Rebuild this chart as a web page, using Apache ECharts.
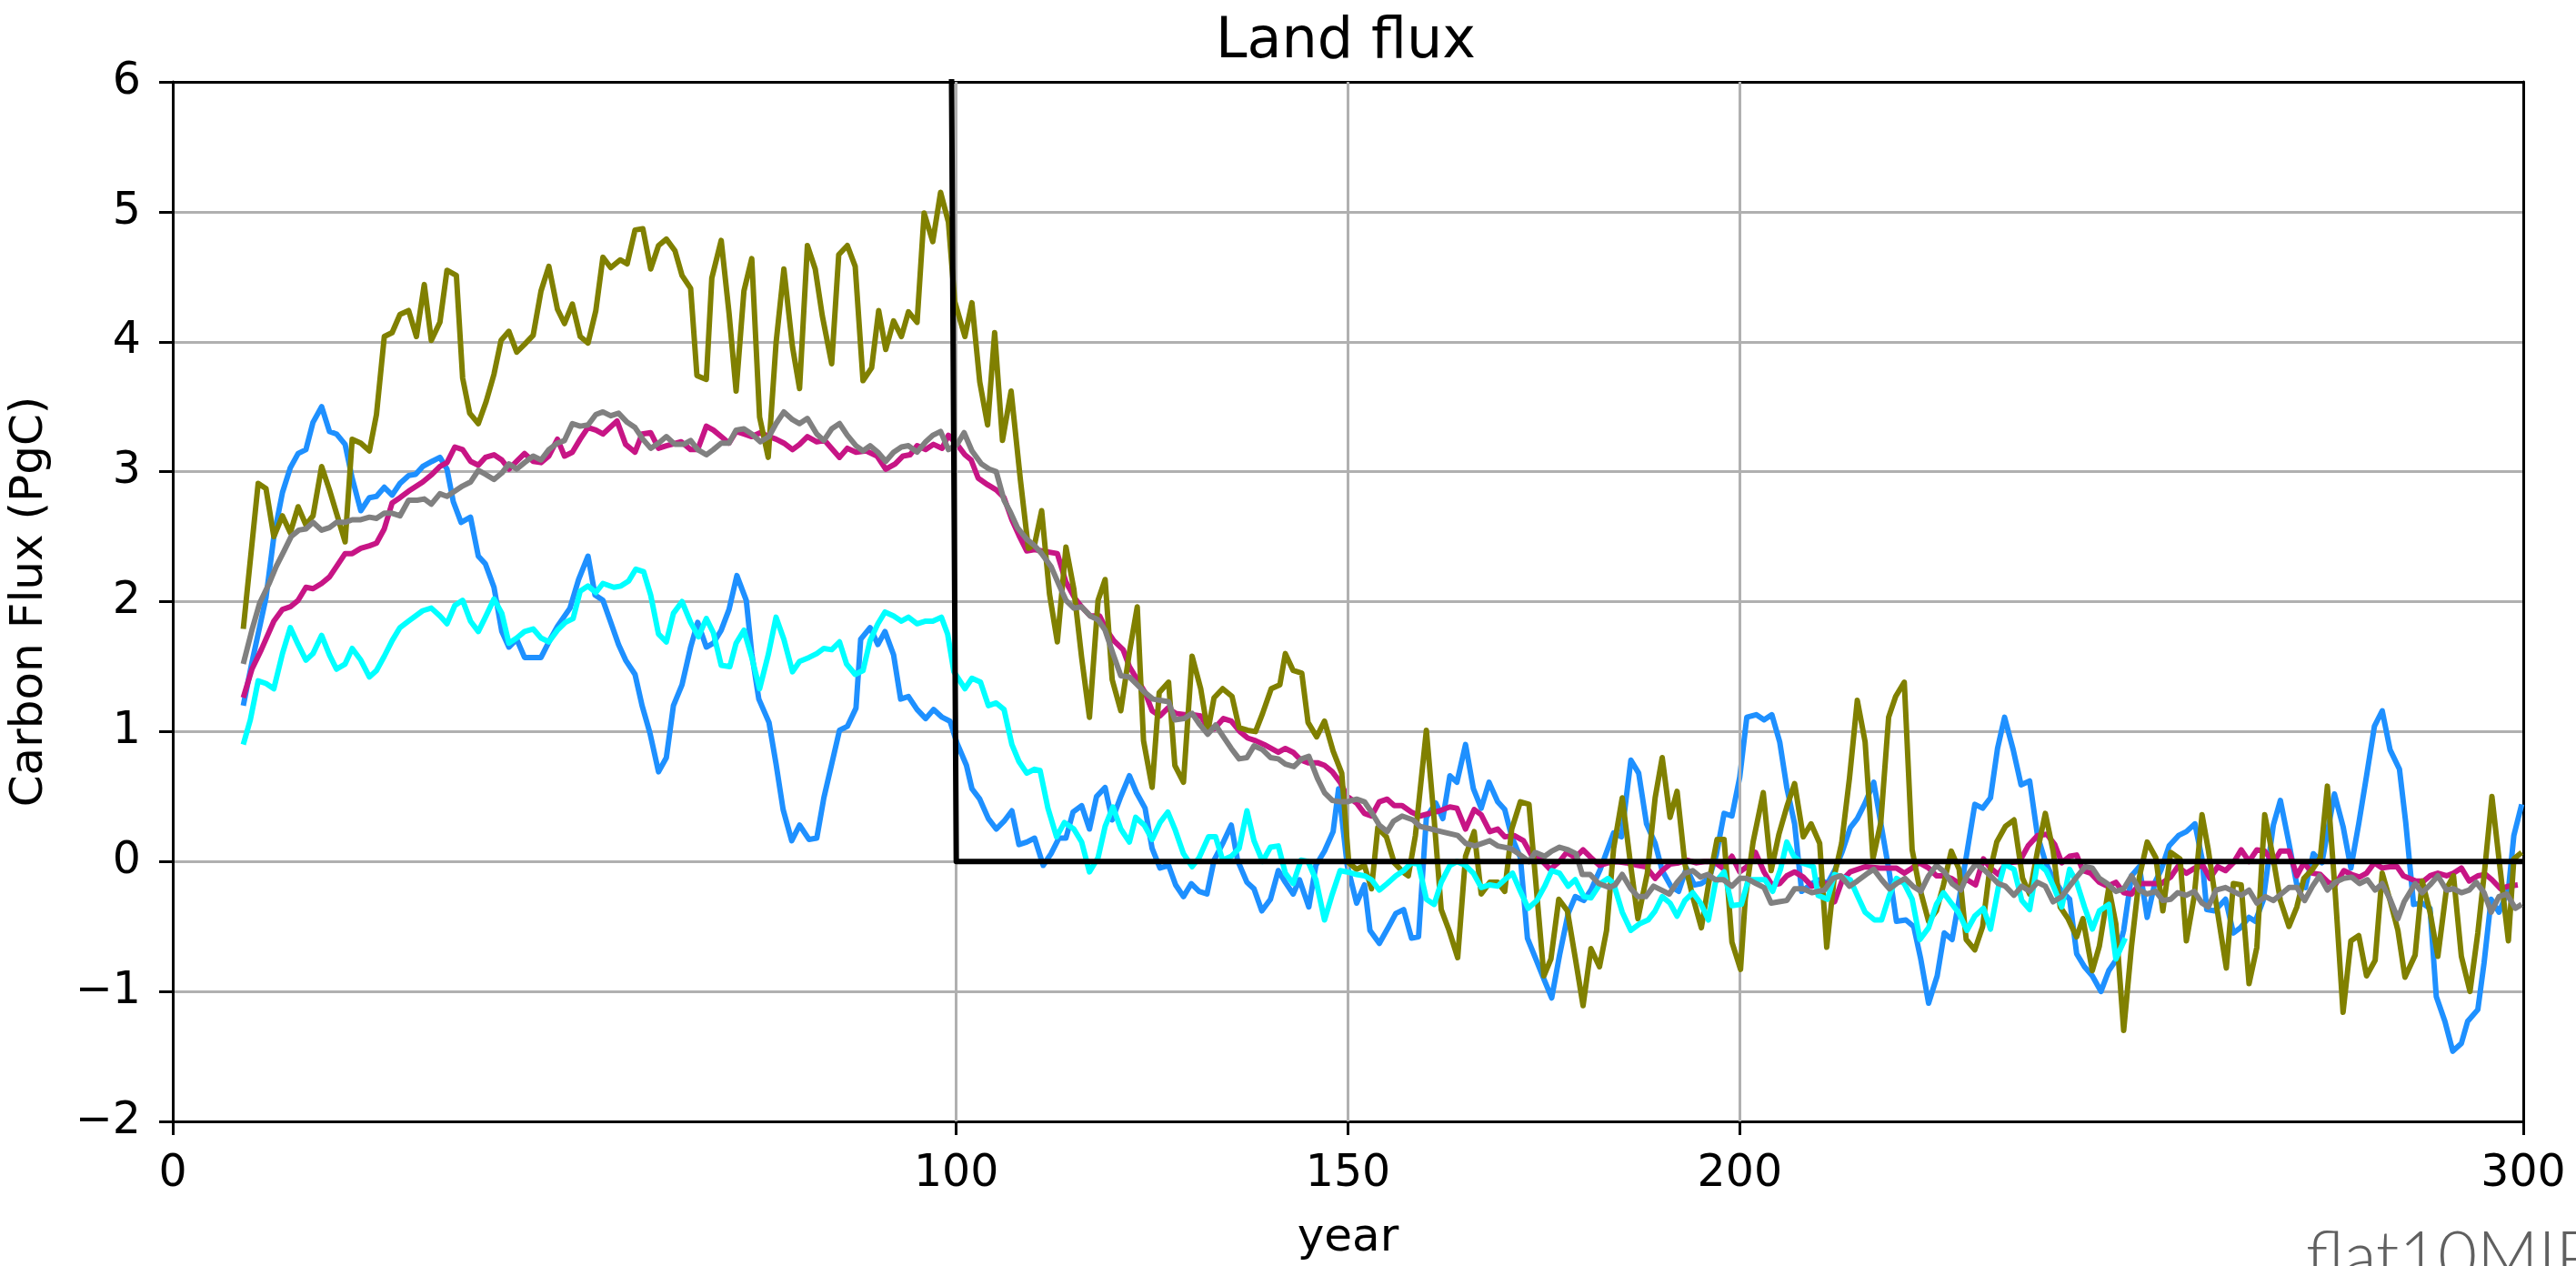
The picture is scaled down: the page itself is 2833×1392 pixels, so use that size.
<!DOCTYPE html>
<html>
<head>
<meta charset="utf-8">
<script src="https://cdn.jsdelivr.net/npm/echarts@6/dist/echarts.min.js"></script>
<style>
html,body{margin:0;padding:0;background:#fff;}
#c{width:2833px;height:1392px;}
</style>
</head>
<body>
<div id="c"></div>
<script>
// ---- data: [year, carbon flux (PgC)] ----
const xTickVals = [0, 100, 150, 200, 300];
const xGridVals = [100, 150, 200];
const emissionYears = [0, 99, 100, 300];
const emissionVals = [10, 10, 0, 0];

const blue = [[9,1.20],[10.1,1.53],[11.9,2.03],[12.9,2.50],[14,2.84],[15,3.03],[16,3.14],[17,3.17],[17.9,3.38],[19,3.50],[20,3.31],[20.9,3.29],[22,3.21],[22.9,2.95],[24,2.70],[25.1,2.80],[26,2.81],[27,2.88],[28,2.82],[29,2.91],[30.1,2.97],[31,2.98],[31.9,3.04],[33.1,3.08],[34.1,3.11],[35,3.02],[35.8,2.77],[36.8,2.61],[38,2.65],[39,2.35],[39.9,2.29],[41,2.11],[42,1.77],[42.9,1.65],[43.9,1.71],[44.9,1.57],[46,1.57],[47,1.57],[48,1.69],[49.1,1.81],[50.7,1.95],[51.8,2.17],[53,2.35],[53.9,2.05],[54.9,2.01],[55.9,1.84],[56.9,1.67],[57.8,1.55],[59,1.44],[59.9,1.20],[60.9,0.99],[62,0.69],[63,0.80],[63.9,1.20],[65,1.36],[66.1,1.65],[67,1.84],[68.1,1.65],[69,1.68],[70,1.78],[71,1.94],[72,2.20],[73.2,2.01],[73.9,1.60],[74.8,1.25],[76.1,1.07],[77,0.75],[77.9,0.40],[79,0.16],[80,0.28],[81.2,0.17],[82.2,0.18],[83.1,0.49],[84.1,0.75],[85.1,1.01],[86.1,1.04],[87.2,1.18],[87.8,1.71],[89,1.80],[90,1.67],[90.9,1.77],[92,1.59],[92.9,1.25],[93.9,1.27],[95,1.17],[96.1,1.10],[97.1,1.17],[98.2,1.11],[99.2,1.08],[100.1,0.91],[101.3,0.74],[102,0.56],[103,0.48],[104.1,0.33],[105.1,0.25],[106.1,0.31],[107.1,0.39],[108,0.13],[109,0.15],[110,0.18],[111.1,-0.03],[112.1,0.06],[113.1,0.18],[114,0.18],[114.9,0.38],[116,0.43],[117,0.25],[117.9,0.50],[119,0.57],[119.9,0.32],[121,0.50],[122.1,0.66],[123,0.53],[124.1,0.41],[125,0.10],[126,-0.05],[127.1,-0.03],[128,-0.18],[129,-0.27],[130,-0.17],[131,-0.23],[132,-0.25],[132.9,0.01],[134.1,0.15],[135.1,0.28],[135.9,0.01],[137.1,-0.16],[138,-0.21],[139,-0.38],[140.1,-0.29],[141.1,-0.07],[142,-0.16],[143,-0.25],[143.8,-0.14],[145,-0.35],[145.9,-0.03],[147,0.08],[148.1,0.23],[148.8,0.56],[149.9,-0.03],[151.1,-0.32],[152.1,-0.18],[152.8,-0.53],[154,-0.63],[155.2,-0.50],[156.1,-0.40],[157.1,-0.37],[158.1,-0.59],[159,-0.58],[160,0.34],[161.2,0.45],[162.1,0.33],[163,0.66],[163.9,0.61],[165,0.90],[166,0.56],[167,0.41],[168,0.61],[169.1,0.46],[170,0.40],[170.9,0.19],[172,0.03],[172.9,-0.59],[173.9,-0.74],[175.1,-0.92],[176,-1.05],[177,-0.72],[178.1,-0.40],[179,-0.27],[180.1,-0.30],[181,-0.22],[182.2,-0.06],[183.9,0.22],[184.9,0.19],[186.1,0.78],[187.1,0.68],[188.1,0.29],[189.2,0.14],[190.1,-0.07],[191.2,-0.19],[192.2,-0.23],[193.2,-0.05],[194.2,-0.18],[195.1,-0.17],[196.1,-0.13],[197,0.05],[198,0.37],[199,0.35],[200,0.65],[200.9,1.11],[202.1,1.13],[203.1,1.09],[204.1,1.13],[205.1,0.92],[206,0.57],[207,0.29],[207.9,-0.23],[209.2,-0.17],[210.2,-0.14],[211.2,-0.17],[212.1,-0.07],[213.1,0.08],[214.1,0.26],[215,0.33],[216,0.45],[217.1,0.61],[218.1,0.26],[219.1,-0.09],[220,-0.46],[221.2,-0.45],[222.2,-0.50],[223.1,-0.75],[224.1,-1.09],[225.2,-0.88],[226.1,-0.55],[227.1,-0.60],[228,-0.29],[229,0.07],[230,0.44],[231,0.41],[232,0.49],[232.9,0.87],[233.8,1.11],[234.9,0.86],[235.9,0.59],[237,0.62],[238,0.20],[239,0.00],[239.9,-0.12],[241.1,-0.23],[242.1,-0.29],[243,-0.71],[244,-0.81],[245,-0.88],[246.1,-1.00],[247.1,-0.84],[248,-0.76],[249,-0.53],[250,-0.11],[251,-0.04],[252,-0.43],[253,-0.16],[253.8,-0.06],[254.8,0.12],[256,0.20],[257,0.23],[258.1,0.29],[259,0.02],[259.6,-0.37],[260.6,-0.38],[262,-0.29],[263,-0.55],[263.9,-0.51],[265,-0.43],[265.8,-0.46],[266.8,-0.30],[268.1,0.28],[269,0.47],[270.1,0.14],[271.1,-0.18],[272.2,-0.20],[273.2,0.06],[274.3,-0.01],[275.9,0.52],[277,0.27],[278,-0.05],[279,0.29],[280,0.66],[281,1.04],[282,1.16],[283,0.86],[284.2,0.71],[285,0.30],[286,-0.33],[287.1,-0.32],[288.1,-0.36],[288.9,-1.04],[290,-1.23],[291,-1.46],[292.1,-1.40],[292.9,-1.23],[294.2,-1.14],[295,-0.78],[295.9,-0.29],[296.9,-0.39],[298.1,-0.22],[298.8,0.20],[299.8,0.44]];

const magenta = [[9,1.26],[10.1,1.48],[11.3,1.63],[12.9,1.85],[14,1.94],[15,1.96],[16,2.01],[17,2.11],[17.9,2.10],[19,2.14],[20,2.19],[20.9,2.27],[22,2.37],[22.9,2.37],[24,2.41],[25.1,2.43],[26,2.45],[27,2.56],[28,2.76],[29,2.80],[30.1,2.85],[31.9,2.92],[33.1,2.98],[34.1,3.04],[35,3.07],[36,3.19],[37,3.17],[38,3.08],[39,3.05],[39.9,3.11],[41,3.13],[42,3.09],[42.9,3.02],[43.9,3.08],[44.9,3.14],[46,3.08],[47,3.07],[48,3.12],[49.1,3.25],[50,3.12],[51,3.15],[52,3.25],[53,3.34],[54,3.32],[54.9,3.29],[56.7,3.39],[57.8,3.21],[59,3.15],[59.9,3.29],[61,3.30],[62,3.18],[63,3.20],[64.9,3.23],[66.1,3.17],[67,3.17],[68.1,3.35],[69,3.32],[70,3.27],[71,3.22],[71.9,3.31],[72.9,3.29],[73.9,3.27],[75,3.30],[76.1,3.27],[77,3.25],[78,3.22],[79.1,3.17],[80,3.21],[81,3.27],[82.2,3.23],[83.2,3.24],[85.1,3.11],[86.1,3.18],[87.2,3.15],[88.5,3.16],[89.9,3.12],[91,3.02],[92.2,3.06],[93.2,3.12],[94.1,3.13],[95,3.20],[96.1,3.17],[97.1,3.21],[98.2,3.18],[99,3.28],[100.1,3.21],[101.1,3.13],[101.9,3.09],[102.8,2.95],[104,2.90],[105.1,2.86],[106.1,2.80],[107.1,2.63],[108,2.51],[109,2.39],[110,2.40],[110.9,2.39],[112.9,2.37],[114,2.15],[115.1,2.03],[116,1.96],[117.1,1.89],[118.3,1.89],[119.2,1.78],[120.1,1.70],[121.3,1.63],[122.1,1.50],[123.3,1.38],[124.1,1.30],[125,1.16],[126,1.12],[127,1.18],[128,1.14],[129.1,1.13],[130.1,1.13],[131.2,1.12],[132,1.04],[132.9,1.02],[134.1,1.10],[135.1,1.08],[136.2,1.00],[137.2,0.95],[138.2,0.93],[139.3,0.90],[140.2,0.87],[141.1,0.84],[142,0.87],[143,0.84],[144,0.78],[144.9,0.76],[146.1,0.76],[147,0.74],[148,0.69],[149,0.61],[149.9,0.50],[151.1,0.45],[152.1,0.37],[153,0.35],[154,0.46],[155,0.48],[155.9,0.43],[156.9,0.43],[158.1,0.38],[159.2,0.35],[160.4,0.37],[161.7,0.39],[163,0.42],[163.9,0.41],[165,0.25],[166.1,0.40],[167,0.36],[168.1,0.23],[169.1,0.25],[170,0.19],[171.2,0.20],[172.4,0.16],[173.5,0.04],[174.7,0.01],[175.8,-0.06],[177,0.00],[177.9,0.07],[179,0.03],[180,0.09],[181,0.03],[182.1,-0.03],[183.2,-0.01],[184.3,0.00],[185.5,-0.01],[187,-0.03],[188,-0.04],[189.2,-0.13],[190.1,-0.07],[191.1,-0.02],[192.2,-0.01],[193.3,0.01],[194.4,-0.01],[195.5,0.00],[196.7,0.00],[197.8,-0.05],[199,0.04],[200,-0.08],[200.9,-0.04],[202,0.07],[203.1,-0.08],[204.1,-0.18],[205.1,-0.17],[206,-0.11],[207,-0.08],[208.1,-0.12],[209.2,-0.19],[210.2,-0.17],[211.2,-0.17],[212.1,-0.31],[213.1,-0.14],[214.1,-0.08],[216,-0.04],[217.9,-0.05],[220,-0.05],[221,-0.09],[222,-0.05],[222.9,-0.01],[224.1,-0.05],[225.1,-0.11],[226,-0.11],[227,-0.13],[228,-0.17],[229,-0.14],[230.1,-0.18],[231.1,0.02],[232,-0.05],[233,-0.10],[234,-0.01],[235.7,0.00],[236.8,0.12],[238,0.20],[239.2,0.21],[240.2,0.13],[241.1,-0.01],[242.1,0.04],[243,0.05],[243.8,-0.07],[244.8,-0.09],[245.9,-0.16],[246.9,-0.19],[248,-0.16],[249,-0.24],[250,-0.25],[251.1,-0.17],[252.7,-0.17],[253.8,-0.17],[255,-0.12],[255.9,-0.04],[257,-0.09],[258.1,-0.05],[259.1,-0.03],[260,-0.13],[261,-0.04],[262,-0.07],[263,-0.01],[264,0.09],[265,0.00],[266,0.09],[267,0.08],[268.1,-0.01],[269,0.08],[270.1,0.08],[271.1,-0.11],[272,-0.01],[273.1,-0.09],[274.1,-0.10],[275.1,-0.16],[276,-0.18],[277.1,-0.07],[278.1,-0.10],[279.1,-0.12],[280,-0.09],[281,-0.01],[282,-0.05],[283,-0.04],[283.9,-0.04],[284.7,-0.11],[286.3,-0.15],[287.3,-0.15],[288.1,-0.11],[289.1,-0.09],[290.2,-0.11],[291.1,-0.09],[292.1,-0.05],[293.1,-0.15],[294.2,-0.11],[295.2,-0.10],[296,-0.14],[297.1,-0.21],[298.1,-0.19],[299.3,-0.18]];

const olive = [[9,1.79],[10.9,2.91],[11.9,2.87],[12.9,2.50],[14,2.66],[15,2.53],[16,2.73],[17,2.59],[17.9,2.66],[19,3.04],[20,2.86],[20.9,2.68],[22,2.46],[22.9,3.25],[24,3.22],[25.1,3.16],[26,3.44],[27,4.04],[28,4.07],[29,4.21],[30.1,4.24],[31.1,4.04],[32.1,4.44],[33,4.01],[34.1,4.15],[35,4.55],[36.2,4.51],[37,3.72],[37.9,3.45],[39,3.37],[40,3.54],[41,3.75],[41.9,4.01],[42.9,4.08],[43.9,3.92],[44.9,3.98],[46,4.05],[47,4.39],[48,4.58],[49.1,4.25],[50,4.14],[51,4.29],[52,4.04],[53,3.99],[54,4.24],[54.9,4.65],[55.9,4.57],[57.1,4.63],[58,4.60],[59,4.86],[60,4.87],[61,4.56],[62,4.74],[63,4.79],[64.1,4.70],[65,4.51],[66.1,4.41],[66.9,3.74],[68.1,3.71],[68.8,4.49],[70,4.78],[71,4.22],[71.9,3.62],[72.9,4.39],[73.9,4.64],[74.9,3.42],[76,3.11],[77,3.99],[78,4.56],[79.1,3.96],[80,3.64],[81,4.74],[82,4.56],[82.9,4.20],[84.1,3.83],[85,4.67],[86.1,4.74],[87.1,4.58],[88.1,3.70],[89.2,3.80],[90.1,4.24],[91,3.94],[92,4.16],[93,4.04],[93.9,4.23],[95,4.15],[95.9,4.99],[97,4.77],[98,5.15],[99,4.92],[99.8,4.31],[101.1,4.04],[102,4.30],[103,3.69],[104,3.36],[104.9,4.07],[105.9,3.24],[107,3.62],[108.2,2.93],[109.2,2.41],[110,2.44],[110.9,2.70],[111.9,2.06],[112.9,1.69],[114,2.42],[115,2.10],[116,1.57],[117,1.11],[118.1,2.01],[119,2.17],[119.9,1.40],[121,1.16],[122.1,1.61],[123.1,1.96],[123.9,0.93],[125,0.57],[125.9,1.30],[127.1,1.38],[127.9,0.74],[129,0.61],[130.1,1.58],[131.2,1.33],[132.1,1.00],[132.9,1.26],[134,1.33],[135.2,1.27],[136.1,1.03],[137.2,1.01],[138.2,1.00],[139.1,1.14],[140.2,1.33],[141.3,1.36],[142,1.60],[143,1.47],[144.1,1.45],[144.9,1.07],[146,0.96],[147,1.08],[148.1,0.85],[149.2,0.68],[150.1,-0.01],[151.1,-0.06],[152.1,-0.03],[153,-0.21],[153.8,0.26],[154.9,0.19],[155.9,-0.01],[157,-0.08],[157.7,-0.11],[158.6,0.20],[160,1.01],[161,0.32],[161.9,-0.37],[162.9,-0.53],[164,-0.74],[165,0.04],[166.1,0.23],[167,-0.25],[168.1,-0.16],[169.1,-0.16],[170,-0.23],[170.9,0.25],[172,0.46],[173.1,0.44],[173.9,-0.11],[175,-0.88],[175.9,-0.75],[176.9,-0.29],[178,-0.38],[179,-0.74],[180,-1.11],[181,-0.67],[182.1,-0.81],[183,-0.53],[183.9,0.10],[185,0.49],[186.1,-0.04],[187,-0.44],[188.2,-0.09],[189.2,0.49],[190.1,0.80],[191.1,0.34],[192,0.54],[193,-0.02],[194,-0.27],[195.1,-0.51],[196,-0.18],[197.1,0.17],[198,0.17],[199,-0.62],[200.1,-0.83],[200.7,-0.29],[201.7,0.15],[203,0.53],[204,-0.07],[205,0.21],[206,0.42],[207,0.60],[208.1,0.19],[209.1,0.29],[210.2,0.14],[211.1,-0.66],[212.1,-0.10],[213,0.14],[214,0.64],[215,1.24],[216,0.92],[217,0.02],[218,0.30],[219,1.11],[219.9,1.27],[221,1.38],[222,0.09],[222.9,-0.19],[224.1,-0.46],[225.1,-0.38],[226,-0.18],[227,0.08],[228,-0.06],[228.9,-0.60],[230,-0.68],[231,-0.50],[231.8,-0.11],[232.8,0.15],[233.9,0.27],[235,0.32],[236.1,-0.13],[237,-0.25],[238,0.08],[239,0.37],[240,0.08],[240.9,-0.35],[241.9,-0.44],[243,-0.58],[243.8,-0.44],[245,-0.84],[245.9,-0.65],[247.1,-0.20],[248,-0.48],[249,-1.30],[250,-0.65],[251,-0.12],[252,0.15],[253.1,0.03],[254,-0.38],[255,0.07],[256.2,0.02],[257,-0.61],[258,-0.27],[259,0.36],[259.8,0.09],[260.8,-0.32],[262.1,-0.82],[263,-0.17],[264,-0.18],[265,-0.94],[266,-0.66],[267,0.36],[268.1,0.02],[269,-0.30],[270.1,-0.50],[271.1,-0.35],[272,-0.13],[273.1,-0.06],[274.1,0.03],[275,0.58],[276,-0.24],[277,-1.16],[278,-0.61],[279,-0.57],[280,-0.88],[281.1,-0.76],[282,-0.09],[283,-0.30],[284,-0.53],[284.9,-0.89],[286.2,-0.72],[287.1,-0.15],[288.1,-0.39],[289.1,-0.73],[290.2,-0.21],[291.1,-0.11],[292.1,-0.73],[293.2,-1.00],[294.2,-0.55],[295.1,-0.05],[296,0.50],[296.9,0.02],[298.1,-0.61],[298.8,0.02],[299.8,0.07]];

const cyan = [[9,0.90],[9.9,1.09],[10.9,1.39],[11.9,1.37],[12.9,1.33],[14,1.60],[15,1.80],[16,1.67],[17,1.55],[17.9,1.60],[19,1.74],[20,1.59],[20.9,1.48],[22,1.52],[22.9,1.64],[24,1.55],[25.1,1.42],[26,1.47],[27,1.58],[28,1.70],[29,1.80],[30.1,1.85],[31.9,1.93],[33,1.95],[34.1,1.89],[35,1.83],[36,1.97],[37,2.01],[38,1.85],[39,1.77],[39.9,1.88],[41,2.02],[42,1.91],[42.9,1.68],[43.9,1.72],[44.9,1.77],[46,1.79],[47,1.72],[48,1.69],[49.1,1.78],[50.1,1.84],[51.1,1.87],[52,2.08],[53,2.12],[54,2.07],[54.9,2.14],[56.3,2.11],[57.2,2.12],[58.2,2.16],[59.1,2.25],[60.1,2.23],[61,2.05],[62,1.75],[63,1.69],[63.9,1.91],[65,2.00],[66.1,1.84],[67.1,1.73],[68.1,1.87],[69,1.76],[70,1.51],[71.1,1.50],[71.9,1.68],[72.9,1.78],[73.9,1.57],[74.9,1.33],[76,1.59],[77,1.88],[78,1.71],[79.1,1.46],[80,1.54],[81.2,1.57],[82.2,1.60],[83.1,1.64],[84.1,1.63],[85.1,1.69],[86,1.52],[87.1,1.44],[88.1,1.47],[89,1.70],[90,1.83],[90.9,1.92],[92,1.89],[93,1.85],[93.9,1.88],[95,1.83],[96.1,1.85],[97,1.85],[98.1,1.88],[98.9,1.75],[99.7,1.46],[101.1,1.33],[102,1.41],[103.1,1.38],[104.1,1.20],[105.1,1.22],[106.1,1.17],[107.1,0.90],[108,0.77],[109,0.68],[110,0.71],[110.7,0.70],[111.7,0.41],[112.8,0.19],[113.8,0.30],[115,0.25],[116,0.15],[117,-0.08],[118.1,0.03],[119,0.27],[120,0.42],[121,0.25],[122.1,0.15],[122.9,0.34],[124,0.28],[125,0.17],[126,0.30],[127,0.38],[127.9,0.25],[129,0.06],[130.1,-0.04],[131,0.03],[132.2,0.19],[133.1,0.19],[134,0.01],[135.1,0.04],[136.1,0.10],[137.1,0.39],[138,0.16],[139.1,0.00],[140.1,0.11],[141.1,0.12],[142,-0.09],[143,-0.17],[144,0.01],[144.9,0.00],[145.9,-0.14],[147,-0.45],[148,-0.25],[149,-0.07],[149.9,-0.08],[151.1,-0.10],[152.1,-0.11],[153,-0.14],[154,-0.22],[155,-0.17],[156.1,-0.11],[157.1,-0.07],[158.1,-0.01],[159,-0.02],[160,-0.29],[161,-0.33],[161.9,-0.16],[163,-0.03],[163.9,0.00],[165,-0.03],[166,-0.09],[167,-0.20],[168.1,-0.18],[169.1,-0.19],[170,-0.14],[171,-0.09],[172,-0.23],[173,-0.36],[174.1,-0.30],[175.1,-0.19],[176,-0.07],[177,-0.09],[178.1,-0.19],[179,-0.14],[180.1,-0.27],[181,-0.28],[182.2,-0.17],[183.2,-0.13],[183.9,-0.17],[185,-0.39],[186.1,-0.53],[187.2,-0.48],[188.3,-0.45],[189.2,-0.38],[190.1,-0.27],[191.1,-0.32],[192,-0.42],[193,-0.30],[194,-0.24],[195,-0.32],[196,-0.45],[196.9,-0.16],[198,-0.08],[199,-0.34],[200.2,-0.33],[201.1,-0.14],[202.1,-0.14],[203.2,-0.14],[204.2,-0.23],[205.2,-0.06],[206,0.15],[206.9,0.04],[207.9,-0.01],[209.4,-0.04],[210,-0.26],[211.2,-0.29],[212.1,-0.10],[213.1,-0.12],[214.1,-0.14],[215,-0.26],[216,-0.39],[217.2,-0.45],[218.1,-0.45],[219.1,-0.26],[220,-0.13],[221,-0.17],[222,-0.29],[223,-0.60],[224.1,-0.51],[225.1,-0.33],[226,-0.24],[227,-0.32],[228,-0.40],[229,-0.53],[230,-0.42],[231.1,-0.36],[232,-0.52],[233,-0.20],[233.8,-0.02],[235,-0.06],[236,-0.30],[237,-0.37],[238,-0.01],[239.1,-0.07],[240.1,-0.20],[241.1,-0.35],[242.1,-0.06],[243,-0.16],[244,-0.35],[245,-0.52],[245.9,-0.38],[247.1,-0.33],[248,-0.75],[249.2,-0.59]];

const gray = [[9,1.52],[10.1,1.78],[11.1,1.99],[12.3,2.14],[13.2,2.27],[14.2,2.39],[15.1,2.50],[16.1,2.55],[17,2.56],[17.9,2.61],[19,2.55],[20,2.57],[20.9,2.61],[22,2.61],[22.9,2.63],[24,2.63],[25.1,2.65],[26,2.64],[27,2.68],[28,2.68],[29,2.66],[30.1,2.78],[31.2,2.78],[32.1,2.79],[33,2.75],[34.1,2.83],[35,2.81],[36,2.85],[37,2.89],[38,2.92],[39,3.01],[39.9,2.98],[41,2.94],[42,2.99],[42.9,3.06],[43.9,3.02],[44.9,3.07],[46,3.12],[47,3.09],[48,3.17],[49.1,3.22],[50,3.24],[51,3.37],[52,3.35],[53,3.36],[54,3.44],[54.9,3.46],[55.9,3.43],[56.9,3.45],[58,3.38],[59,3.34],[60,3.25],[61,3.18],[62,3.22],[63,3.27],[64.1,3.21],[65.2,3.21],[66.1,3.24],[67,3.17],[68.1,3.13],[69,3.17],[70,3.22],[71,3.22],[71.9,3.32],[72.9,3.33],[73.9,3.29],[75,3.23],[76.1,3.27],[77,3.37],[78,3.46],[79.1,3.40],[80,3.37],[81,3.41],[82.2,3.29],[83.1,3.24],[84.1,3.33],[85.1,3.37],[86.1,3.28],[87.2,3.20],[88.1,3.16],[89,3.20],[90,3.15],[91,3.08],[92,3.15],[93,3.19],[93.9,3.20],[95,3.15],[96.1,3.23],[97,3.28],[98,3.31],[99,3.17],[100.1,3.21],[101,3.30],[102,3.16],[103.2,3.06],[104.2,3.02],[105.1,3.00],[106.1,2.78],[106.9,2.69],[107.8,2.57],[109,2.48],[110,2.43],[110.9,2.37],[112.1,2.27],[113.1,2.13],[114,2.01],[115,1.95],[116,1.96],[117.1,1.89],[118.1,1.86],[119,1.78],[120,1.60],[121,1.43],[122.1,1.42],[123.1,1.36],[124.1,1.30],[125.1,1.25],[126,1.24],[127.1,1.23],[127.9,1.09],[129.1,1.10],[130.1,1.14],[131,1.06],[132.1,0.98],[133.1,1.05],[134.1,0.96],[135.1,0.87],[136.1,0.79],[137.1,0.80],[138,0.89],[139.1,0.86],[140.1,0.80],[141.1,0.79],[142,0.75],[143.1,0.73],[144.1,0.79],[145,0.81],[146.1,0.64],[147,0.53],[148,0.47],[149,0.46],[149.9,0.46],[151.1,0.48],[152.1,0.46],[153,0.38],[154,0.28],[155,0.23],[155.8,0.31],[156.9,0.35],[158.3,0.32],[159.2,0.27],[160.6,0.25],[161.9,0.23],[164,0.20],[165,0.14],[166.2,0.12],[168.1,0.16],[169.1,0.12],[170.8,0.10],[172,0.05],[173.1,0.00],[173.9,0.07],[175.1,0.04],[176,0.08],[177,0.11],[178.1,0.09],[179.1,0.06],[179.9,-0.10],[180.9,-0.10],[182,-0.17],[183.4,-0.20],[184.1,-0.18],[185,-0.10],[186.1,-0.21],[187,-0.27],[188,-0.27],[189,-0.19],[190,-0.22],[191,-0.25],[192,-0.16],[193,-0.09],[194,-0.07],[195,-0.12],[195.9,-0.10],[196.9,-0.14],[197.9,-0.14],[199,-0.19],[200,-0.13],[200.9,-0.13],[202.1,-0.17],[203.1,-0.20],[204,-0.32],[205,-0.31],[206,-0.30],[207,-0.21],[208.1,-0.21],[209.2,-0.24],[210.8,-0.22],[211.9,-0.13],[212.9,-0.11],[214,-0.19],[215,-0.15],[216.1,-0.10],[217.1,-0.06],[218.1,-0.14],[219.1,-0.21],[220,-0.17],[221.1,-0.13],[222.1,-0.19],[223.1,-0.23],[224.1,-0.11],[225.1,-0.03],[226.1,-0.08],[227.1,-0.17],[228.2,-0.22],[229,-0.11],[230.1,-0.02],[231.1,-0.06],[232,-0.11],[233,-0.17],[233.9,-0.19],[235,-0.26],[236,-0.19],[237,-0.23],[238,-0.16],[239,-0.19],[240,-0.31],[241.1,-0.27],[242.1,-0.19],[243,-0.12],[244.1,-0.04],[245,-0.05],[245.9,-0.13],[246.9,-0.17],[248,-0.23],[249,-0.21],[250,-0.11],[251,-0.22],[252,-0.25],[253.1,-0.23],[254,-0.30],[255,-0.29],[255.9,-0.24],[257,-0.26],[258,-0.23],[259,-0.32],[259.8,-0.35],[260.8,-0.22],[262,-0.20],[263,-0.23],[264,-0.26],[265,-0.22],[266,-0.32],[267.1,-0.27],[268.1,-0.30],[269.1,-0.25],[270.1,-0.20],[271.1,-0.20],[272.1,-0.30],[273.1,-0.19],[274,-0.11],[275,-0.22],[276,-0.16],[277.1,-0.13],[278.1,-0.12],[279.1,-0.17],[280.1,-0.14],[281.1,-0.22],[282,-0.17],[283,-0.29],[284,-0.44],[284.8,-0.31],[286.2,-0.17],[287.1,-0.24],[288.1,-0.18],[289.1,-0.11],[290.2,-0.22],[291.1,-0.21],[292.1,-0.24],[293.1,-0.22],[294,-0.16],[295,-0.24],[295.9,-0.39],[296.9,-0.27],[297.9,-0.25],[299,-0.36],[299.8,-0.33]];

// ---- chart ----
const FONT = '"DejaVu Sans", "Liberation Sans", sans-serif';
const LW = 6;
const emission = emissionYears.map((y, i) => [y, emissionVals[i]]);

function lineSeries(name, data, color, z) {
  return {
    name: name, type: 'line', data: data, showSymbol: false, symbol: 'none',
    lineStyle: { color: color, width: LW, join: 'round', cap: 'butt' },
    z: z, clip: true, silent: true, animation: false
  };
}

const spine = { show: true, onZero: false, lineStyle: { color: '#000', width: 3 } };

const chart = echarts.init(document.getElementById('c'), null, { renderer: 'canvas' });
chart.setOption({
  animation: false,
  backgroundColor: '#ffffff',
  grid: { left: 186, right: 58, top: 90, bottom: 158, show: false },
  xAxis: [{
    type: 'value', min: 0, max: 300, interval: 50, position: 'bottom',
    axisLine: spine,
    axisTick: { show: true, length: 15, customValues: xTickVals, lineStyle: { color: '#000', width: 3 } },
    axisLabel: { show: true, customValues: xTickVals, fontSize: 49, color: '#000', margin: 34, fontFamily: FONT },
    splitLine: { show: false },
    name: 'year', nameLocation: 'middle', nameGap: 104,
    nameTextStyle: { fontSize: 50, color: '#000', fontFamily: FONT }
  }, {
    type: 'value', min: 0, max: 300, position: 'top',
    axisLine: spine, axisTick: { show: false }, axisLabel: { show: false }, splitLine: { show: false }
  }],
  yAxis: [{
    type: 'value', min: -2, max: 6, interval: 1, position: 'left',
    axisLine: spine,
    axisTick: { show: true, length: 15, lineStyle: { color: '#000', width: 3 } },
    axisLabel: { fontSize: 49, color: '#000', margin: 35, fontFamily: FONT,
      formatter: v => (v < 0 ? '\u2212' + Math.abs(v) : String(v)) },
    splitLine: { show: true, lineStyle: { color: '#b0b0b0', width: 3 } },
    name: 'Carbon Flux (PgC)', nameLocation: 'middle', nameGap: 132, nameRotate: 90,
    nameTextStyle: { fontSize: 50, color: '#000', fontFamily: FONT }
  }, {
    type: 'value', min: -2, max: 6, interval: 1, position: 'right',
    axisLine: spine, axisTick: { show: false }, axisLabel: { show: false }, splitLine: { show: false }
  }],
  graphic: [
    { type: 'text', x: 1480, y: 16, silent: true,
      style: { text: 'Land flux', font: '62px ' + FONT, fill: '#000', align: 'center', verticalAlign: 'top', textAlign: 'center', textVerticalAlign: 'top' } },
    { type: 'text', x: 2536, y: 1346, silent: true,
      style: { text: 'flat10MIP', font: '300 74px Lato, "Open Sans", sans-serif', fill: '#606060', align: 'left', verticalAlign: 'top', textAlign: 'left', textVerticalAlign: 'top' } }
  ],
  series: [
    { type: 'line', data: [], silent: true, z: 1,
      markLine: { silent: true, symbol: 'none', animation: false, label: { show: false },
        lineStyle: { color: '#b0b0b0', width: 3, type: 'solid' },
        data: xGridVals.map(v => ({ xAxis: v })) } },
    lineSeries('blue', blue, '#1e90ff', 3),
    lineSeries('magenta', magenta, '#c71585', 4),
    lineSeries('olive', olive, '#808000', 5),
    lineSeries('cyan', cyan, '#00ffff', 6),
    lineSeries('gray', gray, '#808080', 7),
    lineSeries('emissions', emission, '#000000', 8)
  ]
});
</script>
</body>
</html>
